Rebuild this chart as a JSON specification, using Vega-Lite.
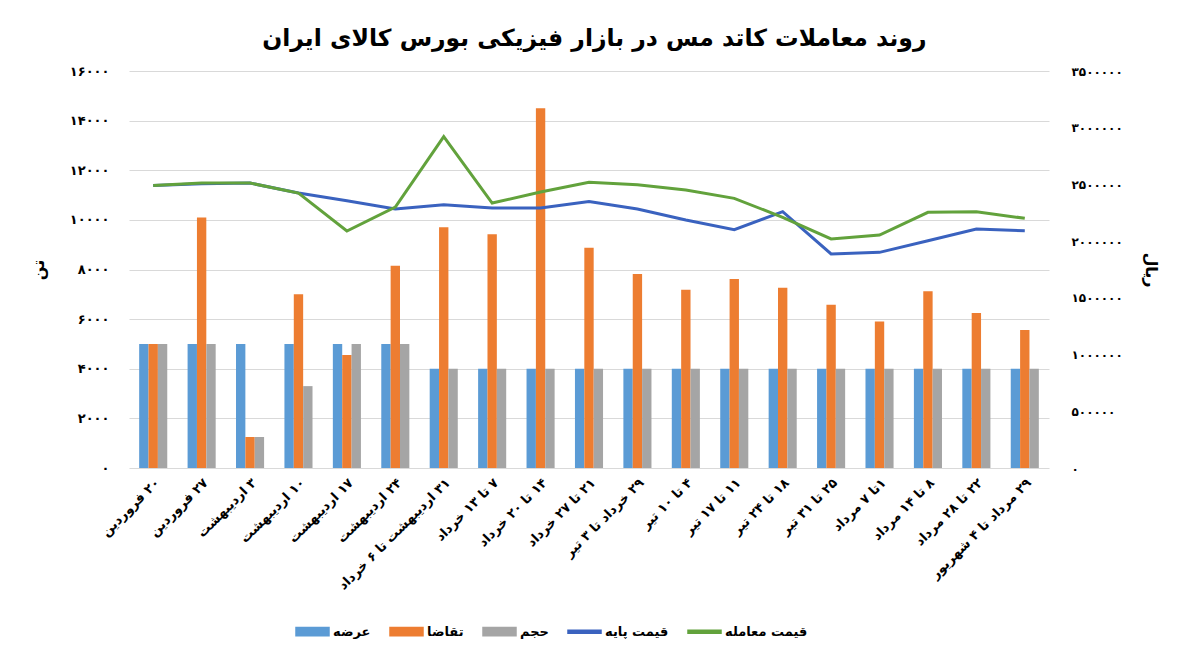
{
  "$schema": "https://vega.github.io/schema/vega-lite/v6.json",
  "width": 920,
  "height": 397,
  "padding": {"left": 30, "top": 26, "right": 20, "bottom": 10},
  "background": "white",
  "title": {
    "text": "روند معاملات  کاتد مس در بازار فیزیکی بورس کالای ایران",
    "font": "DejaVu Sans",
    "fontSize": 23.5,
    "fontWeight": "bold",
    "color": "#000000",
    "anchor": "middle",
    "frame": "bounds",
    "offset": 15
  },
  "data": {
    "values": [
      {"cat": "۲۰ فروردین", "عرضه": 5000, "تقاضا": 5000, "حجم": 5000, "قیمت پایه": 2490000, "قیمت معامله": 2490000},
      {"cat": "۲۷ فروردین", "عرضه": 5000, "تقاضا": 10100, "حجم": 5000, "قیمت پایه": 2505000, "قیمت معامله": 2512000},
      {"cat": "۳ اردیبهشت", "عرضه": 5000, "تقاضا": 1250, "حجم": 1250, "قیمت پایه": 2512000, "قیمت معامله": 2512000},
      {"cat": "۱۰ اردیبهشت", "عرضه": 5000, "تقاضا": 7000, "حجم": 3300, "قیمت پایه": 2425000, "قیمت معامله": 2424000},
      {"cat": "۱۷ اردیبهشت", "عرضه": 5000, "تقاضا": 4550, "حجم": 5000, "قیمت پایه": 2357000, "قیمت معامله": 2089000},
      {"cat": "۲۴ اردیبهشت", "عرضه": 5000, "تقاضا": 8150, "حجم": 5000, "قیمت پایه": 2283000, "قیمت معامله": 2301000},
      {"cat": "۳۱ اردیبهشت تا ۶ خرداد", "عرضه": 4000, "تقاضا": 9700, "حجم": 4000, "قیمت پایه": 2321000, "قیمت معامله": 2921000},
      {"cat": "۷ تا ۱۳ خرداد", "عرضه": 4000, "تقاضا": 9420, "حجم": 4000, "قیمت پایه": 2292000, "قیمت معامله": 2336000},
      {"cat": "۱۴ تا ۲۰ خرداد", "عرضه": 4000, "تقاضا": 14500, "حجم": 4000, "قیمت پایه": 2292000, "قیمت معامله": 2433000},
      {"cat": "۲۱ تا ۲۷ خرداد", "عرضه": 4000, "تقاضا": 8880, "حجم": 4000, "قیمت پایه": 2350000, "قیمت معامله": 2519000},
      {"cat": "۲۹ خرداد تا ۳ تیر", "عرضه": 4000, "تقاضا": 7820, "حجم": 4000, "قیمت پایه": 2283000, "قیمت معامله": 2498000},
      {"cat": "۴ تا ۱۰ تیر", "عرضه": 4000, "تقاضا": 7180, "حجم": 4000, "قیمت پایه": 2186000, "قیمت معامله": 2451000},
      {"cat": "۱۱ تا ۱۷ تیر", "عرضه": 4000, "تقاضا": 7620, "حجم": 4000, "قیمت پایه": 2101000, "قیمت معامله": 2377000},
      {"cat": "۱۸ تا ۲۴ تیر", "عرضه": 4000, "تقاضا": 7260, "حجم": 4000, "قیمت پایه": 2260000, "قیمت معامله": 2210000},
      {"cat": "۲۵ تا ۳۱ تیر", "عرضه": 4000, "تقاضا": 6580, "حجم": 4000, "قیمت پایه": 1887000, "قیمت معامله": 2019000},
      {"cat": "۱تا ۷ مرداد", "عرضه": 4000, "تقاضا": 5900, "حجم": 4000, "قیمت پایه": 1901000, "قیمت معامله": 2054000},
      {"cat": "۸  تا ۱۴ مرداد", "عرضه": 4000, "تقاضا": 7120, "حجم": 4000, "قیمت پایه": 2004000, "قیمت معامله": 2254000},
      {"cat": "۲۲ تا ۲۸ مرداد", "عرضه": 4000, "تقاضا": 6250, "حجم": 4000, "قیمت پایه": 2107000, "قیمت معامله": 2260000},
      {"cat": "۲۹ مرداد تا ۴ شهریور", "عرضه": 4000, "تقاضا": 5560, "حجم": 4000, "قیمت پایه": 2092000, "قیمت معامله": 2201000}
    ]
  },
  "layer": [
    {
      "transform": [{"fold": ["عرضه", "تقاضا", "حجم"], "as": ["series", "value"]}],
      "mark": {"type": "bar"},
      "encoding": {
        "x": {
          "field": "cat",
          "type": "nominal",
          "sort": null,
          "scale": {"paddingInner": 0.42, "paddingOuter": 0.21},
          "axis": {
            "title": null,
            "labelAngle": -45,
            "labelFontSize": 13,
            "labelFontWeight": "bold",
            "labelLimit": 320,
            "labelPadding": 8,
            "labelExpr": "'\u200f' + datum.label + '\u200f'",
            "ticks": false,
            "domain": false
          }
        },
        "xOffset": {
          "field": "series",
          "type": "nominal",
          "sort": ["عرضه", "تقاضا", "حجم"],
          "scale": {"domain": ["عرضه", "تقاضا", "حجم"], "paddingInner": 0}
        },
        "y": {
          "field": "value",
          "type": "quantitative",
          "scale": {"domain": [0, 16000]},
          "axis": {
            "title": "تن",
            "values": [0, 2000, 4000, 6000, 8000, 10000, 12000, 14000, 16000],
            "format": "d",
            "ticks": false,
            "domain": false,
            "labelPadding": 20,
            "titlePadding": 23,
            "titleFontSize": 16
          }
        },
        "color": {
          "field": "series",
          "type": "nominal",
          "scale": {
            "domain": ["عرضه", "تقاضا", "حجم", "قیمت پایه", "قیمت معامله"],
            "range": ["#5B9BD5", "#ED7D31", "#A5A5A5", "#3A62BF", "#62A23C"]
          },
          "legend": {
            "title": null,
            "orient": "none",
            "legendX": 166,
            "legendY": 543,
            "direction": "horizontal",
            "labelFontSize": 13,
            "labelFontWeight": "bold",
            "labelFont": "DejaVu Sans",
            "labelColor": "#000000",
            "symbolSize": 1089,
            "columnPadding": 16,
            "labelOffset": 3,
            "encode": {
              "symbols": {
                "update": {
                  "shape": {"signal": "indexof(['قیمت پایه', 'قیمت معامله'], datum.value) >= 0 ? 'M-1,-0.09H1V0.09H-1Z' : 'M-1,-0.25H1V0.25H-1Z'"},
                  "fill": {"scale": "color", "field": "value"},
                  "stroke": {"value": "transparent"},
                  "opacity": {"value": 1},
                  "fillOpacity": {"value": 1}
                }
              }
            }
          }
        }
      }
    },
    {
      "transform": [{"fold": ["قیمت پایه", "قیمت معامله"], "as": ["series", "price"]}],
      "mark": {"type": "line", "strokeWidth": 3},
      "encoding": {
        "x": {"field": "cat", "type": "nominal", "sort": null},
        "y": {
          "field": "price",
          "type": "quantitative",
          "scale": {"domain": [0, 3500000]},
          "axis": {
            "orient": "right",
            "title": "ریال",
            "values": [0, 500000, 1000000, 1500000, 2000000, 2500000, 3000000, 3500000],
            "format": "d",
            "grid": false,
            "ticks": false,
            "domain": false,
            "labelPadding": 22,
            "labelFontSize": 12,
            "titlePadding": 20,
            "titleFontSize": 16
          }
        },
        "color": {"field": "series", "type": "nominal"}
      }
    }
  ],
  "resolve": {"scale": {"y": "independent"}},
  "config": {
    "locale": {
      "number": {
        "decimal": ".",
        "thousands": ",",
        "grouping": [3],
        "currency": ["", ""],
        "numerals": ["۰", "۱", "۲", "۳", "۴", "۵", "۶", "۷", "۸", "۹"]
      }
    },
    "view": {"stroke": null},
    "axis": {
      "labelFont": "DejaVu Sans",
      "labelFontSize": 13,
      "labelFontWeight": "bold",
      "labelColor": "#000000",
      "titleFont": "DejaVu Sans",
      "titleFontWeight": "bold",
      "titleColor": "#000000",
      "gridColor": "#d9d9d9",
      "gridWidth": 1
    }
  }
}
